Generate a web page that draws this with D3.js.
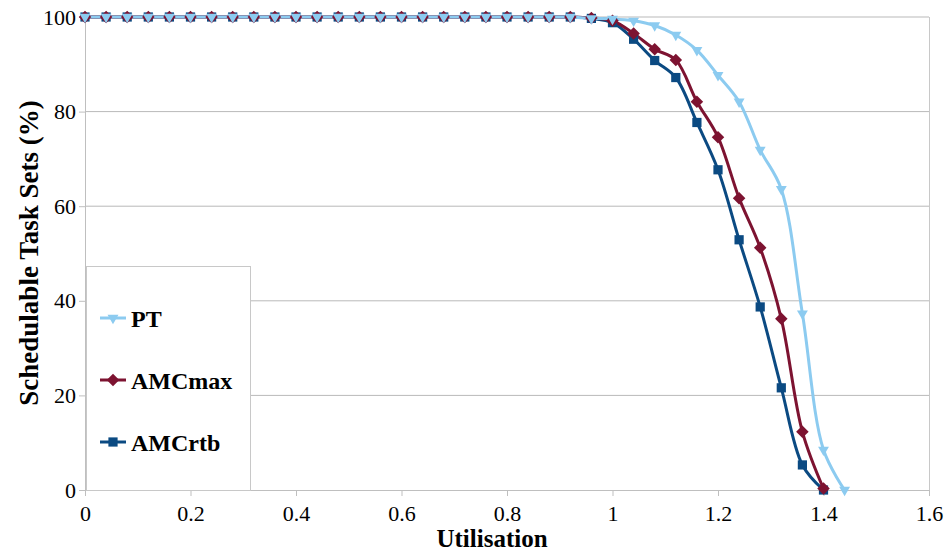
<!DOCTYPE html>
<html>
<head>
<meta charset="utf-8">
<script src="https://cdn.jsdelivr.net/npm/d3@7"></script>
<style>
  html, body { margin: 0; padding: 0; background: #fff; }
  svg { display: block; }
</style>
</head>
<body>
<svg id="chart" width="950" height="556"></svg>
<script>
// Utilisation steps sampled for each schedulability test
const utilisation = [0, 0.04, 0.08, 0.12, 0.16, 0.2, 0.24, 0.28, 0.32, 0.36, 0.4, 0.44,
  0.48, 0.52, 0.56, 0.6, 0.64, 0.68, 0.72, 0.76, 0.8, 0.84, 0.88, 0.92,
  0.96, 1.0, 1.04, 1.08, 1.12, 1.16, 1.2, 1.24, 1.28, 1.32, 1.36, 1.4, 1.44];

// Percentage of schedulable task sets
const ptValues = [100, 100, 100, 100, 100, 100, 100, 100, 100, 100, 100, 100,
  100, 100, 100, 100, 100, 100, 100, 100, 100, 100, 100, 100,
  99.7, 99.6, 99.2, 98.2, 96.2, 93.0, 87.7, 82.1, 71.9, 63.6, 37.3, 8.5, 0];
const amcMaxValues = [100, 100, 100, 100, 100, 100, 100, 100, 100, 100, 100, 100,
  100, 100, 100, 100, 100, 100, 100, 100, 100, 100, 100, 100,
  99.8, 99.2, 96.5, 93.2, 90.9, 82.1, 74.6, 61.7, 51.2, 36.2, 12.3, 0.3];
const amcRtbValues = [100, 100, 100, 100, 100, 100, 100, 100, 100, 100, 100, 100,
  100, 100, 100, 100, 100, 100, 100, 100, 100, 100, 100, 100,
  99.7, 98.8, 95.3, 90.8, 87.2, 77.7, 67.7, 52.9, 38.7, 21.6, 5.3, 0];

const seriesNames = ["PT", "AMCmax", "AMCrtb"];
const xTicks = [0, 0.2, 0.4, 0.6, 0.8, 1, 1.2, 1.4, 1.6];
const yTicks = [0, 20, 40, 60, 80, 100];

const series = [
  { name: seriesNames[2], values: amcRtbValues, color: "#0b4a82", symbol: d3.symbolSquare, size: 85, rotate: 0 },
  { name: seriesNames[1], values: amcMaxValues, color: "#7d1331", symbol: d3.symbolDiamond2, size: 100, rotate: 0 },
  { name: seriesNames[0], values: ptValues, color: "#8ccbf0", symbol: d3.symbolTriangle2, size: 85, rotate: 180 }
];

const svg = d3.select("#chart");
const margin = { top: 17, right: 21, bottom: 66, left: 85 };
const width = 950 - margin.left - margin.right;
const height = 556 - margin.top - margin.bottom;

const x = d3.scaleLinear().domain([0, 1.6]).range([0, width]);
const y = d3.scaleLinear().domain([0, 100]).range([height, 0]);

const g = svg.append("g").attr("transform", `translate(${margin.left},${margin.top})`);

// Horizontal gridlines
g.append("g")
  .selectAll("line")
  .data(yTicks.filter(d => d > 0))
  .join("line")
  .attr("x1", 0).attr("x2", width)
  .attr("y1", d => y(d)).attr("y2", d => y(d))
  .attr("stroke", "#b9b9b9").attr("stroke-width", 1);

// Right frame edge
g.append("line")
  .attr("x1", width + 0.5).attr("x2", width + 0.5)
  .attr("y1", 0).attr("y2", height)
  .attr("stroke", "#c8c8c8").attr("stroke-width", 1);

const tickFont = "'Liberation Serif', 'Times New Roman', serif";

// X axis
const xAxis = g.append("g")
  .attr("transform", `translate(0,${height})`)
  .call(d3.axisBottom(x).tickValues(xTicks).tickSize(6).tickPadding(9)
    .tickFormat(d => d3.format("")(+d.toFixed(1))));
xAxis.select(".domain").attr("stroke", "#bfbfbf");
xAxis.selectAll(".tick line").attr("stroke", "#bfbfbf");
xAxis.selectAll("text")
  .attr("font-family", tickFont).attr("font-size", 22).attr("fill", "#000");

// Y axis
const yAxis = g.append("g")
  .call(d3.axisLeft(y).tickValues(yTicks).tickSize(6).tickPadding(3));
yAxis.select(".domain").attr("stroke", "#bfbfbf");
yAxis.selectAll(".tick line").attr("stroke", "#bfbfbf");
yAxis.selectAll("text")
  .attr("font-family", tickFont).attr("font-size", 22).attr("fill", "#000");

// Axis titles
svg.append("text")
  .attr("x", 492).attr("y", 547)
  .attr("text-anchor", "middle")
  .attr("font-family", tickFont).attr("font-weight", "bold").attr("font-size", 25)
  .text("Utilisation");

svg.append("text")
  .attr("transform", "translate(38,253) rotate(-90)")
  .attr("text-anchor", "middle")
  .attr("font-family", tickFont).attr("font-weight", "bold").attr("font-size", 27)
  .text("Schedulable Task Sets (%)");

// Series lines and markers
const line = d3.line()
  .x((d, i) => x(utilisation[i]))
  .y(d => y(d))
  .curve(d3.curveCatmullRom.alpha(0.5));

series.forEach(s => {
  g.append("path")
    .datum(s.values)
    .attr("fill", "none")
    .attr("stroke", s.color)
    .attr("stroke-width", 3)
    .attr("stroke-linejoin", "round")
    .attr("d", line);
});

series.forEach(s => {
  g.append("g")
    .selectAll("path")
    .data(s.values)
    .join("path")
    .attr("transform", (d, i) => `translate(${x(utilisation[i])},${y(d)}) rotate(${s.rotate})`)
    .attr("d", d3.symbol().type(s.symbol).size(s.size))
    .attr("fill", s.color);
});

// Legend
const legend = svg.append("g").attr("transform", "translate(86,266)");
legend.append("rect")
  .attr("x", 0.5).attr("y", 0.5)
  .attr("width", 164).attr("height", 224)
  .attr("fill", "#fff").attr("stroke", "#c8c8c8").attr("stroke-width", 1);

const legendOrder = [series[2], series[1], series[0]];
legendOrder.forEach((s, i) => {
  const cy = 52 + i * 62;
  const item = legend.append("g").attr("transform", `translate(0,${cy})`);
  item.append("line")
    .attr("x1", 14).attr("x2", 40).attr("y1", 0).attr("y2", 0)
    .attr("stroke", s.color).attr("stroke-width", 3);
  item.append("path")
    .attr("transform", `translate(27,0) rotate(${s.rotate})`)
    .attr("d", d3.symbol().type(s.symbol).size(s.size))
    .attr("fill", s.color);
  item.append("text")
    .attr("x", 45).attr("y", 8.5)
    .attr("font-family", tickFont).attr("font-weight", "bold").attr("font-size", 24)
    .attr("fill", "#000")
    .text(s.name);
});
</script>
</body>
</html>
